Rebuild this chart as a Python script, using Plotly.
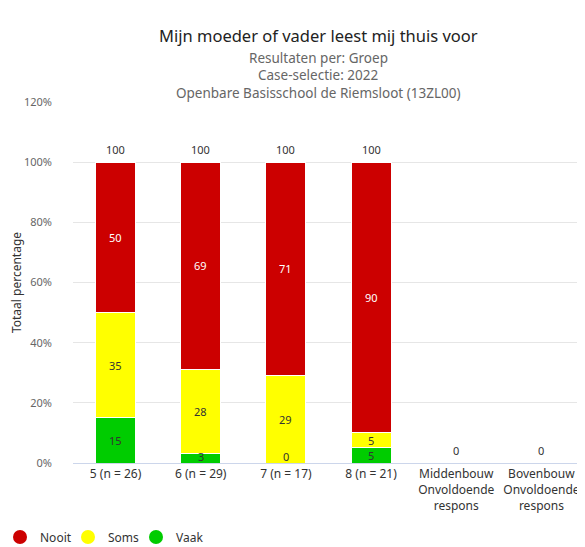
import plotly.graph_objects as go

categories = ["5 (n = 26)", "6 (n = 29)", "7 (n = 17)", "8 (n = 21)",
              "Middenbouw<br>Onvoldoende<br>respons", "Bovenbouw<br>Onvoldoende<br>respons"]
vaak = [15, 3, 0, 5, None, None]
soms = [35, 28, 29, 5, None, None]
nooit = [50, 69, 71, 90, None, None]
totals = [100, 100, 100, 100, 0, 0]

series = [("Vaak", vaak, "#00CC00", "#333333"),
          ("Soms", soms, "#FFFF00", "#333333"),
          ("Nooit", nooit, "#CC0000", "#FFFFFF")]

FONT = "Noto Sans"
OFF = 8  # page body margin
W, H = 585 - OFF, 547 - OFF
L, R, T, B = 73 - OFF, 1, 102 - OFF, 84
pw, ph = W - L - R, H - T - B

fig = go.Figure()
annotations = []
base = [0] * len(categories)
for name, vals, color, tcol in series:
    fig.add_trace(go.Bar(
        name=name, x=categories, y=[v if v is not None else 0 for v in vals],
        marker=dict(color=color, line=dict(color="white", width=1)),
        width=0.47, hoverinfo="skip", showlegend=False))
    for i, v in enumerate(vals):
        if v is None:
            continue
        mid = max(base[i] + v / 2, 2.3)
        annotations.append(dict(x=categories[i], y=mid, xref="x", yref="y",
                                text=str(v), showarrow=False,
                                font=dict(family=FONT, size=11, color=tcol)))
        base[i] += v

# legend entries with round symbols
for name, vals, color, tcol in reversed(series):
    fig.add_trace(go.Scatter(name=name, x=[None], y=[None], mode="markers",
                             marker=dict(color=color, size=14, symbol="circle"),
                             hoverinfo="skip"))

for i, t in enumerate(totals):
    annotations.append(dict(x=categories[i], y=t, xref="x", yref="y", text=str(t),
                            showarrow=False, yanchor="bottom", yshift=3,
                            font=dict(family=FONT, size=11, color="#333333")))

titles = [
    ("Mijn moeder of vader leest mij thuis voor", 22, 16.5, "#222222"),
    ("Resultaten per: Groep", 47, 13.5, "#666666"),
    ("Case-selectie: 2022", 64, 13.5, "#666666"),
    ("Openbare Basisschool de Riemsloot (13ZL00)", 82, 13.5, "#666666"),
]
for text, py, size, col in titles:
    annotations.append(dict(x=(318 - OFF - L) / pw, y=1 + (T - (py - OFF)) / ph,
                            xref="paper", yref="paper",
                            text=text, showarrow=False,
                            font=dict(family=FONT, size=size, color=col)))

fig.update_layout(
    barmode="stack", width=W, height=H,
    margin=dict(l=L, r=R, t=T, b=B, autoexpand=False),
    plot_bgcolor="white", paper_bgcolor="white",
    font=dict(family=FONT, size=12, color="#333333"),
    annotations=annotations,
    legend=dict(orientation="h", x=(-8 - L) / pw, xanchor="left", y=-74 / ph, yanchor="middle",
                traceorder="normal",
                font=dict(size=12, color="#333333"), entrywidth=23, entrywidthmode="pixels",
                itemwidth=30),
)
fig.update_yaxes(range=[0, 120], dtick=20, ticksuffix="%", showgrid=True, gridcolor="#e6e6e6",
                 zeroline=False, ticklabelstandoff=20, automargin=False,
                 tickfont=dict(size=11, color="#666666"),
                 title=dict(text="Totaal percentage", font=dict(size=12, color="#333333"), standoff=12))
fig.update_xaxes(showline=True, linecolor="#ccd6eb", tickfont=dict(size=12, color="#333333"),
                 ticks="", automargin=False, range=[-0.5, 5.5])
fig.write_html("out.html")
